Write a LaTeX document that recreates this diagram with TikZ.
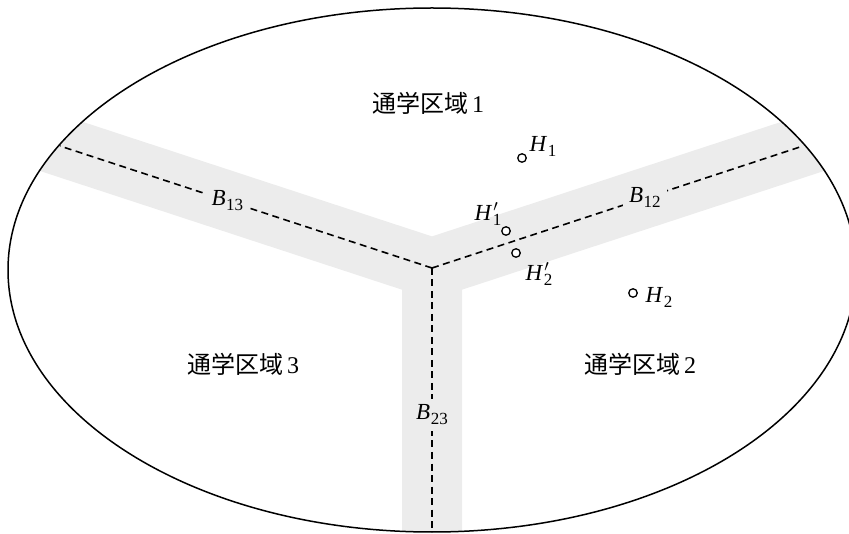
\RequirePackage{fix-cm}
\documentclass[tikz,border=0pt]{standalone}
\usepackage{fontspec}
\setmainfont{Liberation Serif}
\newfontfamily\cjk{Noto Sans CJK JP}
\definecolor{bandgray}{RGB}{236,236,236}
\newcommand\subtxt[1]{\raisebox{-5pt}{\fontsize{17}{17}\selectfont #1}}
\newcommand\mylbl[2]{\textit{#1}\kern0.5pt\subtxt{#2}}
\newcommand\mylblp[2]{\textit{#1}\rlap{\kern1pt$^{\prime}$}\kern0.5pt\subtxt{#2}}
\tikzset{
  bnd/.style={line width=1.6pt, dash pattern=on 7pt off 4.5pt},
  blabel/.style={fill=bandgray, inner sep=6pt, font=\fontsize{23}{26}\selectfont},
  hpt/.style={circle, draw, line width=1.3pt, fill=white, minimum size=8.5pt, inner sep=0pt},
  hlabel/.style={inner sep=0pt, font=\fontsize{23}{26}\selectfont},
  region/.style={inner sep=0pt, font=\fontsize{24}{26}\selectfont},
}
\begin{document}
\begin{tikzpicture}[x=1pt, y=-1pt]
\useasboundingbox (0,0) rectangle (849,534);
\coordinate (C) at (432,270);
\coordinate (J) at (432,268);
\coordinate (EL) at (60,146);
\coordinate (ER) at (803,146);
\coordinate (EB) at (432,532);
% gray bands
\begin{scope}
  \clip (C) ellipse [x radius=424pt, y radius=262pt];
  \fill[bandgray] (432,236.4) -- (907.1,80.6) -- (937.1,133.9) -- (462,289.7)
    -- (462,700) -- (402,700) -- (402,289.7) -- (-73.1,133.9) -- (-43.1,80.6) -- cycle;
\end{scope}
% outline
\draw[line width=1.5pt] (C) ellipse [x radius=424pt, y radius=262pt];
% boundaries
\draw[bnd] (J) -- (EL) node[blabel, pos=0.55] (b13) {\mylbl{B}{13}};
\draw[bnd] (J) -- (ER) node[blabel, pos=0.574] (b12) {\mylbl{B}{12}};
\draw[bnd] (J) -- (EB) node[blabel, pos=0.557] (b23) {\mylbl{B}{23}};
% regions
\node[region] (r1) at (428,103) {\cjk 通学区域\,\rmfamily 1};
\node[region] (r3) at (243,364) {\cjk 通学区域\,\rmfamily 3};
\node[region] (r2) at (640,364) {\cjk 通学区域\,\rmfamily 2};
% points
\node[hpt] (h1) at (522,158) {};
\node[hpt] (h1p) at (506,231) {};
\node[hpt] (h2p) at (516,253) {};
\node[hpt] (h2) at (633,293) {};
\node[hlabel] (lh1) at (543,146) {\mylbl{H}{1}};
\node[hlabel] (lh1p) at (488,214) {\mylblp{H}{1}};
\node[hlabel] (lh2p) at (539,274) {\mylblp{H}{2}};
\node[hlabel] (lh2) at (659,297) {\mylbl{H}{2}};
\end{tikzpicture}
\end{document}
